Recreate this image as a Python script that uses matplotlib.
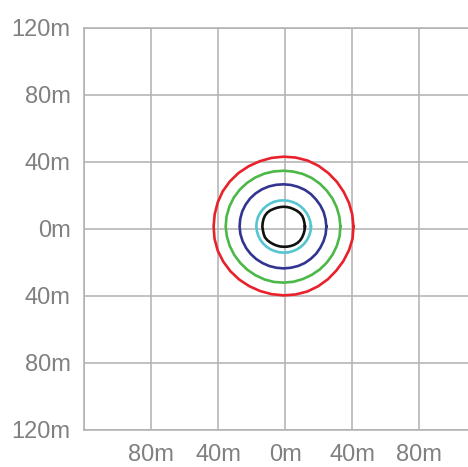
import numpy as np
import matplotlib.pyplot as plt

# contour data: radius (m) around a common centre, sampled every 10 degrees
angles_deg = np.arange(0, 360, 10)
centre_x, centre_y = -1.0, 1.3

r_red = [41.7, 41.6, 41.5, 41.4, 41.5, 41.6, 41.8, 41.9, 41.8, 41.7,
         41.6, 41.5, 41.6, 41.8, 41.9, 42.0, 41.9, 41.8, 41.8,
         41.9, 41.9, 41.7, 41.5, 41.3, 41.1, 41.0, 41.0, 41.1, 41.2,
         41.3, 41.2, 41.1, 41.0, 41.2, 41.5, 41.8]
r_green = [33.9, 33.8, 33.7, 33.6, 33.5, 33.5, 33.5, 33.4, 33.3, 33.3,
           33.4, 33.6, 33.8, 34.0, 34.2, 34.4, 34.5, 34.6, 34.6,
           34.4, 34.2, 34.0, 33.8, 33.7, 33.6, 33.6, 33.6, 33.5, 33.5,
           33.4, 33.4, 33.5, 33.6, 33.7, 33.8, 33.9]
r_blue = [25.5, 25.4, 25.4, 25.3, 25.2, 25.3, 25.3, 25.2, 25.2, 25.2,
          25.3, 25.5, 25.7, 25.9, 26.1, 26.2, 26.3, 26.3, 26.3,
          26.2, 26.0, 25.8, 25.6, 25.4, 25.2, 25.1, 25.0, 25.0, 25.0,
          25.1, 25.2, 25.2, 25.3, 25.3, 25.4, 25.5]
r_cyan = [16.3, 16.2, 16.0, 15.9, 15.8, 15.7, 15.7, 15.6, 15.6, 15.6,
          15.7, 15.8, 15.9, 16.0, 16.1, 16.2, 16.3, 16.3, 16.3,
          16.2, 16.1, 16.0, 15.9, 15.8, 15.7, 15.6, 15.6, 15.6, 15.7,
          15.7, 15.8, 15.9, 16.0, 16.1, 16.2, 16.3]
r_black = [12.7, 12.6, 12.7, 12.8, 12.6, 12.3, 12.0, 11.9, 11.8, 11.8,
           11.8, 11.9, 12.1, 12.5, 12.8, 12.9, 12.8, 12.7, 12.7,
           12.6, 12.7, 12.9, 12.7, 12.4, 12.2, 12.1, 12.1, 12.1, 12.2,
           12.4, 12.6, 12.8, 12.9, 12.8, 12.7, 12.7]

contours = [(r_red, '#e8212b'), (r_green, '#4cb848'), (r_blue, '#323492'),
            (r_cyan, '#55c5d2'), (r_black, '#111111')]

ticks = [-120, -80, -40, 0, 40, 80, 120]
xtick_labels = ['', '80m', '40m', '0m', '40m', '80m', '']
ytick_labels = ['120m', '80m', '40m', '0m', '40m', '80m', '120m']

grid_col = '#b0b0b0'
text_col = '#808080'
plt.rcParams['font.family'] = ['Liberation Sans', 'DejaVu Sans']

fig = plt.figure(figsize=(4.68, 4.67), dpi=100)
ax = fig.add_axes([84.3 / 468, (467 - 429.7) / 467, 402 / 468, 402 / 467])

theta = np.deg2rad(angles_deg)
for radii, col in contours:
    r = np.array(radii + radii[:1])
    t = np.append(theta, theta[0])
    ax.plot(centre_x + r * np.cos(t), centre_y + r * np.sin(t),
            color=col, lw=1.9, solid_joinstyle='round', zorder=3)

ax.set_xlim(-120, 120)
ax.set_ylim(-120, 120)
ax.set_xticks(ticks)
ax.set_xticklabels(xtick_labels)
ax.set_yticks(ticks)
ax.set_yticklabels(ytick_labels)
ax.grid(True, color=grid_col, lw=1.1)
ax.set_axisbelow(True)
ax.tick_params(length=0, labelsize=17, labelcolor=text_col, pad=10)
for side in ['left', 'top', 'bottom']:
    ax.spines[side].set_color(grid_col)
    ax.spines[side].set_linewidth(1.1)
ax.spines['right'].set_visible(False)

fig.savefig('out.png', dpi=100)
